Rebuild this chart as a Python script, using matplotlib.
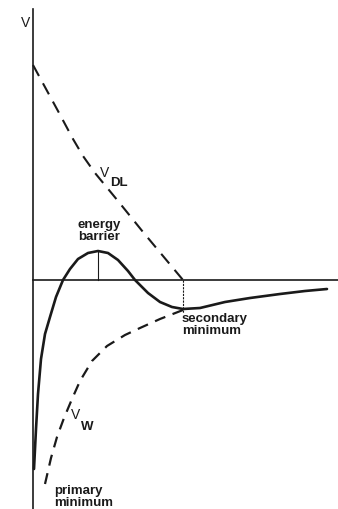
import matplotlib
matplotlib.use("Agg")
import matplotlib.pyplot as plt

# Interaction energy vs. separation (arbitrary units, origin at axis crossing)
r_total = [1, 3, 5, 8, 12, 17, 23, 30, 37, 45, 55, 65, 75, 85, 95, 102,
           115, 127, 139, 150, 167, 192, 217, 247, 272, 294]
v_total = [-189, -149, -114, -79, -54, -37, -17, 0, 11, 21, 27, 29, 27, 20, 9, 0,
           -13, -22, -27, -29, -28, -22, -18, -14, -11, -9]

# double-layer repulsion
r_dl = [0, 25, 40, 50, 62, 85, 110, 150]
v_dl = [215, 169, 141, 124, 107, 79, 48, 0]

# van der Waals attraction
r_w = [12, 18, 24, 31, 39, 47, 59, 74, 92, 107, 127, 150]
v_w = [-204, -178, -157, -138, -119, -101, -81, -66, -55, -48, -39, -30]

r_barrier, v_barrier = 65, 29
r_second, v_second = 150, -30

plt.rcParams['font.family'] = ['Liberation Sans', 'DejaVu Sans']
INK = '#1a1a1a'

fig = plt.figure(figsize=(3.38, 5.10), dpi=100)
ax = fig.add_axes([0, 0, 1, 1])
ax.set_xlim(-33, 305)
ax.set_ylim(-229, 281)
ax.axis('off')

# axes drawn as plain lines
ax.plot([0, 0], [271, -229], color=INK, lw=1.2)
ax.plot([0, 305], [0, 0], color=INK, lw=1.2)

ax.plot(r_total, v_total, color=INK, lw=1.9, solid_capstyle='round')
ax.plot(r_dl, v_dl, color=INK, lw=1.5, dashes=(6, 4))
ax.plot(r_w, v_w, color=INK, lw=1.6, dashes=(5, 3.5))

# markers for barrier height and secondary minimum
ax.plot([r_barrier, r_barrier], [v_barrier, 0], color=INK, lw=0.8)
ax.plot([r_second, r_second], [0, v_second - 3], color=INK, lw=0.8, dashes=(2, 1))

lab = dict(fontsize=9.5, color=INK, fontweight='bold', linespacing=0.95)
sym = dict(fontsize=10, color=INK, ha='center', va='center')
sub = dict(fontsize=9.5, color=INK, ha='left', va='center', fontweight='bold')
ax.text(-7, 258, "V", **sym)
ax.text(72, 108, "V", **sym)
ax.text(77, 98, "DL", **sub)
ax.text(66, 50, "energy\nbarrier", ha='center', va='center', **lab)
ax.text(149, -44, "secondary\nminimum", ha='left', va='center', **lab)
ax.text(43, -134, "V", **sym)
ax.text(48, -146, "W", **sub)
ax.text(21, -216, "primary\nminimum", ha='left', va='center', **lab)

fig.savefig("out.png", dpi=100, facecolor='white')
